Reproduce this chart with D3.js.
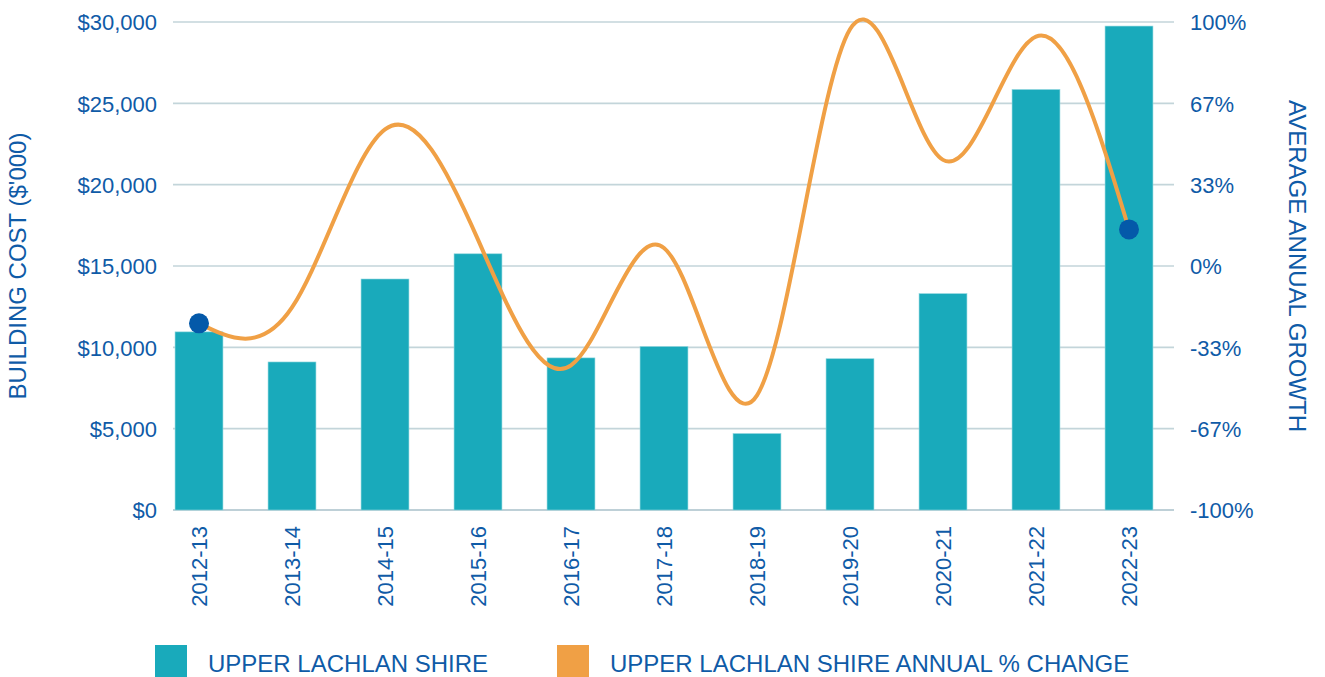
<!DOCTYPE html>
<html>
<head>
<meta charset="utf-8">
<script src="https://cdn.jsdelivr.net/npm/d3@7"></script>
<style>
  body { margin: 0; background: #fff; }
  text { font-family: "Liberation Sans", Arial, sans-serif; fill: #0f5ba7; }
</style>
</head>
<body>
<div id="chart"></div>
<script>
// Chart data
const years = ["2012-13", "2013-14", "2014-15", "2015-16", "2016-17", "2017-18",
               "2018-19", "2019-20", "2020-21", "2021-22", "2022-23"];
const buildingCost = [10950, 9100, 14200, 15750, 9350, 10050, 4700, 9300, 13300, 25850, 29750];
const annualChange = [-23.5, -17, 56, 10.8, -40.7, 7.4, -53, 97, 43.5, 94, 15];
const costTicks = [0, 5000, 10000, 15000, 20000, 25000, 30000];
const growthTicks = [-100, -100 / 3, -200 / 3, 0, 100 / 3, 200 / 3, 100];

const width = 1325, height = 677;
const margin = { top: 22, right: 151, bottom: 167, left: 173 };
const innerW = width - margin.left - margin.right;
const innerH = height - margin.top - margin.bottom;

const svg = d3.select("#chart").append("svg")
    .attr("width", width)
    .attr("height", height);

const g = svg.append("g")
    .attr("transform", `translate(${margin.left},${margin.top})`);

// Scales
const x = d3.scaleBand()
    .domain(years)
    .range([-20.5, innerW + 1.5]) // bars sit slightly left of the grid, as in the original
    .paddingInner(0.485)
    .paddingOuter(0.2425);

const yCost = d3.scaleLinear().domain([0, 30000]).range([innerH, 0]);
const yGrowth = d3.scaleLinear().domain([-100, 100]).range([innerH, 0]);

// Gridlines
g.selectAll(".grid")
    .data(costTicks)
    .enter()
    .append("line")
    .attr("x1", 0)
    .attr("x2", innerW)
    .attr("y1", d => yCost(d))
    .attr("y2", d => yCost(d))
    .attr("stroke", d => d === 0 ? "#a9c1ca" : "#c3d5da")
    .attr("stroke-width", 1.6);

// Left axis
const leftAxis = g.append("g")
    .call(d3.axisLeft(yCost).tickValues(costTicks).tickSize(0).tickPadding(16)
        .tickFormat(d => "$" + d3.format(",")(d)));
leftAxis.select(".domain").remove();
leftAxis.selectAll("text").style("font-size", "22px").attr("dy", "0.35em");

// Right axis
const rightAxis = g.append("g")
    .attr("transform", `translate(${innerW},0)`)
    .call(d3.axisRight(yGrowth).tickValues(growthTicks).tickSize(0).tickPadding(16)
        .tickFormat(d => Math.round(d) + "%"));
rightAxis.select(".domain").remove();
rightAxis.selectAll("text").style("font-size", "22px").attr("dy", "0.35em");

// Bottom axis labels (rotated)
const bottomAxis = g.append("g")
    .attr("transform", `translate(0,${innerH})`)
    .call(d3.axisBottom(x).tickSize(0).tickPadding(0));
bottomAxis.select(".domain").remove();
bottomAxis.selectAll("text")
    .style("font-size", "22px")
    .attr("text-anchor", "end")
    .attr("transform", "translate(0,16) rotate(-90)")
    .attr("x", 0)
    .attr("y", 0)
    .attr("dy", "0.35em");

// Bars
g.selectAll(".bar")
    .data(buildingCost)
    .enter()
    .append("rect")
    .attr("x", (d, i) => x(years[i]))
    .attr("y", d => yCost(d))
    .attr("width", x.bandwidth())
    .attr("height", d => innerH - yCost(d))
    .attr("fill", "#19aabb")
    .attr("stroke", "#8fd6de")
    .attr("stroke-width", 0.6);

// Annual change line
const line = d3.line()
    .x((d, i) => x(years[i]) + x.bandwidth() / 2)
    .y(d => yGrowth(d))
    .curve(d3.curveNatural);

g.append("path")
    .datum(annualChange)
    .attr("d", line)
    .attr("fill", "none")
    .attr("stroke", "#f0a045")
    .attr("stroke-width", 4);

// End point markers
const ends = [0, annualChange.length - 1];
g.selectAll(".dot")
    .data(ends)
    .enter()
    .append("circle")
    .attr("cx", i => x(years[i]) + x.bandwidth() / 2)
    .attr("cy", i => yGrowth(annualChange[i]))
    .attr("r", 10)
    .attr("fill", "#0459a9");

// Axis titles
svg.append("text")
    .attr("transform", `translate(26,${margin.top + innerH / 2}) rotate(-90)`)
    .attr("text-anchor", "middle")
    .style("font-size", "24px")
    .text("BUILDING COST ($'000)");

svg.append("text")
    .attr("transform", `translate(1289,${margin.top + innerH / 2}) rotate(90)`)
    .attr("text-anchor", "middle")
    .style("font-size", "24px")
    .text("AVERAGE ANNUAL GROWTH");

// Legend
const legendItems = [
    { label: "UPPER LACHLAN SHIRE", color: "#19aabb", x: 155 },
    { label: "UPPER LACHLAN SHIRE ANNUAL % CHANGE", color: "#f0a045", x: 557 }
];
const legend = svg.selectAll(".legend")
    .data(legendItems)
    .enter()
    .append("g")
    .attr("transform", d => `translate(${d.x},645)`);

legend.append("rect")
    .attr("width", 32)
    .attr("height", 32)
    .attr("fill", d => d.color);

legend.append("text")
    .attr("x", 53)
    .attr("y", 27)
    .style("font-size", "24px")
    .text(d => d.label);
</script>
</body>
</html>
